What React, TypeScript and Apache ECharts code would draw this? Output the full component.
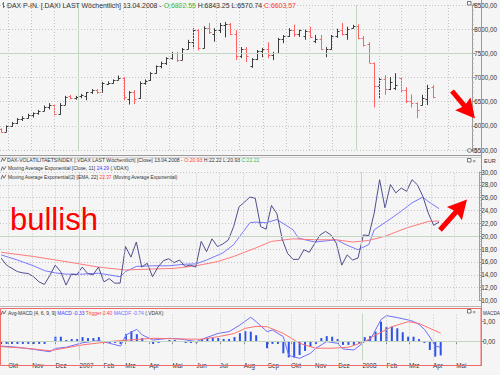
import React, { useEffect, useRef } from 'react';
import * as echarts from 'echarts';

// ---------- data ----------
const DAY = 86400000;
const FIRST_WEEK = '2006-09-22';
const WEEK_COUNT = 82;

const OPEN = [5930,5880,6000,6060,6140,6170,6230,6260,6310,6400, 6430,6250,6440,6610,6570,6610,6620,6690,6750,6700, 6870,6890,6950,6990,6560,6700,6570,6890,6940,7090, 7230,7300,7400,7510,7370,7580,7740,7990,7620,8020, 7900,7980,8080,8110,7890,7450,7580,7230,7380,7550, 7600,7460,7500,7800,7860,7990,7900,7850,7960,7750, 7800,7500,7580,7860,7990,7900,8020,8070,7810,7690, 7300,6820,6970,6770,6790,6980,6750,6520,6470,6440, 6560,6802.55];
const HIGH = [5950,6010,6080,6160,6200,6250,6280,6330,6420,6470, 6440,6470,6620,6640,6620,6660,6700,6760,6760,6910, 6920,6960,7040,7010,6720,6740,6920,6960,7110,7250, 7330,7420,7530,7530,7610,7780,8020,8000,8060,8130, 8020,8130,8150,8130,7980,7630,7630,7400,7570,7610, 7730,7530,7820,7880,8020,8090,7990,7990,8050,7880, 7880,7630,7880,8010,8130,8050,8090,8100,7860,7730, 7310,7010,7050,7010,7090,7010,6800,6650,6480,6640, 6850,6843.25];
const LOW = [5860,5870,5980,6040,6100,6150,6170,6230,6300,6340, 6220,6230,6430,6550,6540,6570,6530,6660,6660,6690, 6850,6870,6940,6530,6440,6450,6560,6850,6930,7080, 7190,7260,7370,7320,7360,7580,7600,7560,7600,7900, 7740,7920,7830,7880,7360,7400,7320,7200,7360,7420, 7400,7360,7500,7710,7840,7840,7840,7780,7820,7710, 7570,7420,7570,7820,7870,7780,8010,7790,7640,7300, 6380,6560,6640,6740,6740,6700,6470,6380,6160,6420, 6430,6570.74];
const CLOSE = [5880,6000,6060,6140,6170,6230,6260,6310,6400,6430, 6250,6440,6600,6570,6600,6640,6690,6740,6700,6880, 6890,6950,6990,6600,6690,6560,6890,6920,7090,7230, 7300,7400,7510,7370,7580,7740,7990,7620,8020,7940, 7980,8080,8110,7890,7450,7580,7450,7380,7550,7600, 7460,7500,7800,7860,7980,7900,7980,7960,7830,7800, 7600,7580,7860,7960,7900,8000,8070,7810,7680,7310, 6820,6970,6770,6900,6850,6750,6510,6470,6330,6580, 6780,6603.57];

const VDAX = [16.6,15.5,15.0,14.5,14.3,14.2,13.7,12.9,12.5,13.9, 15.5,14.5,12.4,14.1,14.0,15.2,14.2,14.0,15.2,12.9, 13.4,12.7,12.7,18.4,16.75,19.1,15.2,15.8,13.7,15.2, 16.2,16.5,15.9,16.3,15.3,15.5,15.2,19.2,17.6,19.6, 18.4,18.8,19.4,21.5,24.6,25.3,26.1,25.9,21.5,21.1, 24.8,23.5,19.5,17.3,16.4,16.4,17.9,17.5,18.9,20.2, 20.75,20.2,18.9,15.5,17.1,16.3,16.6,20.2,20.1,23.6, 28.8,24.4,28.05,26.75,27.5,27.0,28.8,28.0,26.2,23.6, 21.7,22.22];
const VDAX_LAST_OHLC = [20.93, 22.22, 20.93, 22.22];

const EMA11_WEEK = [0,3,6,8,10,12,15,18,22,23,25,28,31,34,36,38,41,43,46,47,49,51,54,55,58,62,64,66,68,69,72,74,76,78,79,81];
const EMA11 = [17.1,16.3,15.4,14.65,14.3,14.1,14.1,14.25,13.7,14.5,15.3,15.4,15.4,15.65,15.7,16.3,17.4,18.7,22.1,22.2,22.1,22.6,21.0,19.7,19.1,19.45,18.6,17.9,18.7,21.0,22.7,23.9,25.2,26.1,25.4,24.29];
const EMA22_WEEK = [0,6,12,18,23,28,32,36,40,43,47,50,54,58,62,65,68,71,75,79,81];
const EMA22 = [17.5,16.85,16.05,15.2,14.75,14.9,15.0,15.4,16.05,16.85,18.15,19.2,19.6,19.45,19.45,19.1,19.35,20.0,21.3,22.3,22.37];

const MACDF = [-0.15,-0.15,-0.15,-0.15,-0.15,-0.15,-0.15,-0.15,-0.15,0.0, 0.22,0.22,0.05,0.1,0.1,0.2,0.15,0.15,0.2,-0.05, -0.1,-0.1,-0.15,0.35,0.5,0.35,0.15,-0.05,-0.15,-0.1, -0.05,0.05,0.05,0.0,-0.1,-0.1,-0.1,0.1,0.15,0.15, 0.15,0.1,0.1,0.2,0.4,0.5,0.48,0.3,-0.03,-0.37, -0.15,-0.15,-0.63,-0.84,-0.85,-0.72,-0.51,-0.3,-0.15,0.15, 0.25,0.22,0.1,-0.2,-0.2,-0.2,-0.15,0.2,0.25,0.48, 0.99,0.73,0.73,0.65,0.45,0.22,0.22,0.1,-0.1,-0.46, -0.8,-0.74];
const MACD_WEEK = [0,3,6,9,10,12,15,18,20,22,23,25,26,28,31,33,36,37,40,42,44,46,47,49,50,52,53,55,57,58,60,62,63,65,67,68,70,71,73,75,76,77,78,79,80,81];
const MACD = [-0.26,-0.32,-0.43,-0.55,-0.38,-0.32,-0.09,0.02,-0.12,-0.26,0.31,0.6,0.31,0.05,0.14,0.1,-0.03,0.09,0.39,0.48,0.82,1.22,0.99,0.48,0.56,0.22,-0.74,-0.89,-0.63,-0.37,-0.03,-0.12,-0.41,-0.46,-0.03,0.05,1.1,1.3,1.2,1.08,1.0,0.85,0.6,0.2,-0.25,-0.33];
const TRIGGER_WEEK = [0,5,9,15,21,28,34,37,40,43,45,47,49,52,55,58,61,64,67,69,72,75,77,79,81];
const TRIGGER = [-0.29,-0.38,-0.5,-0.2,0.0,0.14,0.1,0.09,0.22,0.39,0.65,0.75,0.73,0.39,-0.12,-0.37,-0.37,-0.32,-0.03,0.31,0.73,0.99,0.9,0.65,0.40];

const MONTH_STARTS = ['2006-10-01','2006-11-01','2006-12-01','2007-01-01','2007-02-01','2007-03-01','2007-04-01','2007-05-01','2007-06-01','2007-07-01','2007-08-01','2007-09-01','2007-10-01','2007-11-01','2007-12-01','2008-01-01','2008-02-01','2008-03-01','2008-04-01','2008-05-01'];
const MONTH_LABELS = ['Okt','Nov','Dez','2007','Feb','Mrz','Apr','Mai','Jun','Jul','Aug','Sep','Okt','Nov','Dez','2008','Feb','Mrz','Apr','Mai'];

const PRICE_TICKS = { min: 5500, max: 8500, step: 500 };
const VDAX_TICKS = { min: 10, max: 30, step: 2 };

// ---------- helpers ----------
const FONT = '"Liberation Sans Narrow", "Liberation Sans", Arial, sans-serif';
const FS = 6.3;
const X_MIN = Date.parse('2006-09-20T12:00:00Z');
const X_MAX = Date.parse('2008-06-02T00:00:00Z');
const WEEKS = Array.from({ length: WEEK_COUNT }, (_, i) => Date.parse(FIRST_WEEK) + i * 7 * DAY);
const MONTH_TS = MONTH_STARTS.map((d) => Date.parse(d));
const isYear = (s: string) => /^\d{4}$/.test(s);
const fmt2 = (v: number) => v.toFixed(2).replace('.', ',');
const last = WEEK_COUNT - 1;

const GRID_GREEN = '#c2d6c2';
const DOT = '#c4c4c4';

const monthLines = () =>
  MONTH_TS.map((t, k) => ({
    xAxis: t,
    lineStyle: isYear(MONTH_LABELS[k])
      ? { color: GRID_GREEN, type: 'solid', width: 1 }
      : { color: DOT, type: [1, 2], width: 1 },
  }));

const boxLabel = (text: string, border: string) => ({
  show: true,
  position: 'end',
  distance: 1,
  formatter: text,
  fontSize: FS,
  fontFamily: FONT,
  color: '#222',
  backgroundColor: '#ffffff',
  borderColor: border,
  borderWidth: 0.8,
  borderRadius: 2,
  padding: [1, 3, 0, 3],
});

function arrowPoints(tail: number[], tip: number[], shaftW: number, headL: number, headW: number) {
  const dx = tip[0] - tail[0], dy = tip[1] - tail[1];
  const len = Math.hypot(dx, dy);
  const ux = dx / len, uy = dy / len;
  const nx = -uy, ny = ux;
  const bx = tip[0] - ux * headL, by = tip[1] - uy * headL;
  return [
    [tail[0] + nx * shaftW / 2, tail[1] + ny * shaftW / 2],
    [bx + nx * shaftW / 2, by + ny * shaftW / 2],
    [bx + nx * headW / 2 - ux * 2, by + ny * headW / 2 - uy * 2],
    [tip[0], tip[1]],
    [bx - nx * headW / 2 - ux * 2, by - ny * headW / 2 - uy * 2],
    [bx - nx * shaftW / 2, by - ny * shaftW / 2],
    [tail[0] - nx * shaftW / 2, tail[1] - ny * shaftW / 2],
  ];
}

const yBase = (gridIndex: number) => ({
  type: 'value',
  gridIndex,
  position: 'right',
  axisLine: { show: true, lineStyle: { color: '#9a9a9a', width: 1 } },
  axisTick: { show: true, length: 3, lineStyle: { color: '#9a9a9a' } },
  minorTick: { show: true, splitNumber: 5, length: 1.5, lineStyle: { color: '#b0b0b0' } },
  axisLabel: { fontSize: FS, fontFamily: FONT, color: '#333', margin: 2, formatter: fmt2 },
  splitLine: { show: true, lineStyle: { color: DOT, type: [1, 2], width: 1 } },
});

const xBase = (gridIndex: number, show: boolean) => ({
  type: 'value',
  gridIndex,
  min: X_MIN,
  max: X_MAX,
  show,
  axisLine: { show: false },
  splitLine: { show: false },
  axisTick: { show, customValues: MONTH_TS, length: 3, lineStyle: { color: '#888' } },
  axisLabel: {
    show,
    customValues: MONTH_TS,
    align: 'left',
    margin: 2,
    fontSize: FS,
    fontFamily: FONT,
    color: '#333',
    formatter: (v: number) => {
      const k = MONTH_TS.findIndex((t) => Math.abs(t - v) < DAY);
      return k >= 0 ? MONTH_LABELS[k] : '';
    },
  },
});

const makeRich = (fs: number) => ({
  d: { fill: '#333', fontSize: fs, fontFamily: FONT },
  g: { fill: '#3cb83c', fontSize: fs, fontFamily: FONT },
  r: { fill: '#ff3b3b', fontSize: fs, fontFamily: FONT },
  b: { fill: '#3a3aff', fontSize: fs, fontFamily: FONT },
  lb: { fill: '#6f6fff', fontSize: fs, fontFamily: FONT },
});

const HEAD_PRICE = `{d|DAX P-IN. [.DAXI LAST Wöchentlich] 13.04.2008 - }{g|O:${OPEN[last].toFixed(2)}}{d| H:${HIGH[last].toFixed(2)} L:${LOW[last].toFixed(2)} }{r|C:${CLOSE[last].toFixed(2)}}`;
const HEAD_VDAX = `{d|DAX-VOLATILITAETSINDEX [.VDAX LAST Wöchentlich] [Close] 13.04.2008 - }{r|O:${VDAX_LAST_OHLC[0].toFixed(2)}}{d| H:${VDAX_LAST_OHLC[1].toFixed(2)} L:${VDAX_LAST_OHLC[2].toFixed(2)} }{g|C:${VDAX_LAST_OHLC[3].toFixed(2)}}`;
const HEAD_EMA11 = `{d|Moving Average Exponential [Close, 11] }{b|${EMA11[EMA11.length - 1].toFixed(2)}}{d| (.VDAX)}`;
const HEAD_EMA22 = `{d|Moving Average Exponential(2) [EMA, 22] }{r|${EMA22[EMA22.length - 1].toFixed(2)}}{d| (Moving Average Exponential)}`;
const HEAD_MACD = `{d|Avg-MACD [4, 6, 9, 9] }{b|MACD ${MACD[MACD.length - 1].toFixed(2)}}{d| }{r|Trigger ${TRIGGER[TRIGGER.length - 1].toFixed(2)}}{d| }{lb|MACDF ${MACDF[last].toFixed(2)}}{d| (.VDAX)}`;

const headText = (x: number, y: number, text: string, fs: number) => ({
  type: 'text',
  x,
  y,
  z: 100,
  silent: true,
  style: { text, rich: makeRich(fs), fontSize: fs, fontFamily: FONT, fill: '#333', verticalAlign: 'middle', align: 'left' },
});

const smallText = (x: number, y: number, text: string, fs: number) => ({
  type: 'text', x, y, z: 100, silent: true,
  style: { text, fontSize: fs, fontFamily: FONT, fill: '#333', verticalAlign: 'middle', align: 'left' },
});

const hLine = (x1: number, x2: number, y: number, color: string) => ({
  type: 'line', z: 90, silent: true,
  shape: { x1, y1: y, x2, y2: y },
  style: { stroke: color, lineWidth: 1 },
});

const winIcon = (y: number) => [
  { type: 'rect', z: 100, silent: true, shape: { x: 467.5, y: y - 2, width: 3.5, height: 3.5 }, style: { fill: '#fff', stroke: '#555', lineWidth: 0.8 } },
  { type: 'text', z: 100, silent: true, x: 472.5, y, style: { text: '×', fontSize: 5.5, fontFamily: FONT, fill: '#555', verticalAlign: 'middle' } },
];

const lineIcon = (y: number) => ({
  type: 'polyline', z: 100, silent: true,
  shape: { points: [[1, y + 2], [2.5, y - 2], [4, y + 1], [6, y - 2.5]] },
  style: { stroke: '#555', lineWidth: 0.8, fill: 'none' },
});

// ---------- option ----------
const ohlcData = WEEKS.map((t, i) => [t, OPEN[i], HIGH[i], LOW[i], CLOSE[i]]);
const vdaxData = WEEKS.map((t, i) => [t, VDAX[i]]);
const ema11Data = EMA11_WEEK.map((w, k) => [WEEKS[w], EMA11[k]]);
const ema22Data = EMA22_WEEK.map((w, k) => [WEEKS[w], EMA22[k]]);
const macdfData = WEEKS.map((t, i) => [t, MACDF[i]]);
const macdData = MACD_WEEK.map((w, k) => [WEEKS[w], MACD[k]]);
const trigData = TRIGGER_WEEK.map((w, k) => [WEEKS[w], TRIGGER[k]]);

const option: any = {
  animation: false,
  backgroundColor: '#f5f5f5',
  textStyle: { fontFamily: FONT },
  grid: [
    { left: 0, right: 19, top: 5, height: 145 },
    { left: 0, right: 19, top: 172, height: 128.5 },
    { left: 0, right: 19, top: 313.7, height: 46.8 },
  ],
  xAxis: [xBase(0, false), xBase(1, false), xBase(2, true)],
  yAxis: [
    { ...yBase(0), min: PRICE_TICKS.min, max: PRICE_TICKS.max, interval: PRICE_TICKS.step },
    { ...yBase(1), min: VDAX_TICKS.min, max: VDAX_TICKS.max, interval: VDAX_TICKS.step },
    {
      ...yBase(2),
      min: -1,
      max: 1.4,
      interval: 1,
      minorTick: { show: false },
      splitLine: { show: false },
      axisLabel: {
        fontSize: FS, fontFamily: FONT, color: '#333', margin: 2,
        showMaxLabel: false, showMinLabel: false,
        formatter: (v: number) => (v === 0 || v === 1 ? fmt2(v) : ''),
      },
    },
  ],
  series: [
    {
      type: 'custom',
      name: 'DAX',
      xAxisIndex: 0,
      yAxisIndex: 0,
      clip: true,
      dimensions: ['t', 'o', 'h', 'l', 'c'],
      encode: { x: 0, y: [1, 2, 3, 4] },
      data: ohlcData,
      renderItem: (params: any, api: any) => {
        const t = api.value(0);
        const o = api.value(1), h = api.value(2), l = api.value(3), c = api.value(4);
        const pO = api.coord([t, o]);
        const pH = api.coord([t, h]);
        const pL = api.coord([t, l]);
        const pC = api.coord([t, c]);
        const x = Math.round(pO[0]) + 0.5;
        const color = c >= o ? '#3c3c3c' : '#ff6464';
        const st = { stroke: color, lineWidth: 1 };
        const yo = Math.round(pO[1]) + 0.5;
        const yc = Math.round(pC[1]) + 0.5;
        return {
          type: 'group',
          children: [
            { type: 'line', shape: { x1: x, y1: pH[1], x2: x, y2: pL[1] }, style: st },
            { type: 'line', shape: { x1: x - 2, y1: yo, x2: x, y2: yo }, style: st },
            { type: 'line', shape: { x1: x, y1: yc, x2: x + 2, y2: yc }, style: st },
          ],
        };
      },
      markLine: {
        silent: true,
        symbol: 'none',
        animation: false,
        label: { show: false },
        data: [
          ...monthLines(),
          { yAxis: 7500, lineStyle: { color: GRID_GREEN, type: 'solid', width: 1 } },
          { yAxis: CLOSE[last], lineStyle: { opacity: 0 }, label: boxLabel(String(Math.round(CLOSE[last] - 0.5)), '#8a8a8a') },
        ],
      },
    },
    {
      type: 'line',
      name: 'VDAX',
      xAxisIndex: 1,
      yAxisIndex: 1,
      data: vdaxData,
      symbol: 'none',
      z: 4,
      lineStyle: { color: '#4f4f8e', width: 1 },
      markLine: {
        silent: true,
        symbol: 'none',
        animation: false,
        label: { show: false },
        data: [
          ...monthLines(),
          { yAxis: 20, lineStyle: { color: GRID_GREEN, type: 'solid', width: 1 } },
          { yAxis: VDAX[last], lineStyle: { opacity: 0 }, label: boxLabel(fmt2(VDAX[last]), '#8a8a8a') },
        ],
      },
    },
    {
      type: 'line',
      name: 'EMA11',
      xAxisIndex: 1,
      yAxisIndex: 1,
      data: ema11Data,
      symbol: 'none',
      z: 3,
      lineStyle: { color: '#7878ff', width: 1 },
    },
    {
      type: 'line',
      name: 'EMA22',
      xAxisIndex: 1,
      yAxisIndex: 1,
      data: ema22Data,
      symbol: 'none',
      z: 3,
      lineStyle: { color: '#ff7b7b', width: 1 },
    },
    {
      type: 'bar',
      name: 'MACDF',
      xAxisIndex: 2,
      yAxisIndex: 2,
      data: macdfData,
      barWidth: 2,
      itemStyle: { color: '#2d52e6' },
      markLine: {
        silent: true,
        symbol: 'none',
        animation: false,
        label: { show: false },
        data: [
          ...monthLines(),
          { yAxis: 0, lineStyle: { color: GRID_GREEN, type: 'solid', width: 1 } },
          { yAxis: MACDF[last], lineStyle: { opacity: 0 }, label: boxLabel(fmt2(MACDF[last]), '#6f6fff') },
        ],
      },
    },
    {
      type: 'line',
      name: 'MACD',
      xAxisIndex: 2,
      yAxisIndex: 2,
      data: macdData,
      symbol: 'none',
      z: 4,
      lineStyle: { color: '#6f6fff', width: 1 },
      markLine: {
        silent: true,
        symbol: 'none',
        animation: false,
        data: [
          { yAxis: MACD[MACD.length - 1], lineStyle: { opacity: 0 }, label: boxLabel(fmt2(MACD[MACD.length - 1]), '#6f6fff') },
        ],
      },
    },
    {
      type: 'line',
      name: 'Trigger',
      xAxisIndex: 2,
      yAxisIndex: 2,
      data: trigData,
      symbol: 'none',
      z: 4,
      lineStyle: { color: '#ff7070', width: 1 },
      markLine: {
        silent: true,
        symbol: 'none',
        animation: false,
        data: [
          { yAxis: TRIGGER[TRIGGER.length - 1], lineStyle: { opacity: 0 }, label: boxLabel(TRIGGER[TRIGGER.length - 1].toFixed(1).replace('.', ','), '#ff6a6a') },
        ],
      },
    },
  ],
  graphic: [
    hLine(0, 481, 155.5, '#9a9a9a'),
    hLine(0, 481, 157.5, '#d6d6d6'),
    hLine(0, 481, 306.5, '#b8b8b8'),
    { type: 'line', z: 90, silent: true, shape: { x1: 481.5, y1: 0, x2: 481.5, y2: 366 }, style: { stroke: '#9a9a9a', lineWidth: 1 } },
    { type: 'rect', z: 95, silent: true, shape: { x: 0.5, y: 308.5, width: 480.5, height: 57 }, style: { fill: 'none', stroke: '#f06a6a', lineWidth: 1 } },
    { type: 'line', z: 100, silent: true, shape: { x1: 3.5, y1: 2, x2: 3.5, y2: 8 }, style: { stroke: '#555', lineWidth: 0.8 } },
    { type: 'line', z: 100, silent: true, shape: { x1: 2, y1: 4, x2: 3.5, y2: 4 }, style: { stroke: '#555', lineWidth: 0.8 } },
    { type: 'line', z: 100, silent: true, shape: { x1: 3.5, y1: 6.5, x2: 5, y2: 6.5 }, style: { stroke: '#555', lineWidth: 0.8 } },
    lineIcon(160),
    lineIcon(168.7),
    lineIcon(177.2),
    lineIcon(313),
    headText(7, 5, HEAD_PRICE, 6.9),
    headText(7, 160, HEAD_VDAX, 5.1),
    headText(8, 168.7, HEAD_EMA11, 4.95),
    headText(8, 177.2, HEAD_EMA22, 4.85),
    headText(8, 313, HEAD_MACD, 4.95),
    smallText(484, 160.5, 'EUR', 5.6),
    smallText(483, 313.5, 'MACDA', 4.7),
    ...winIcon(3.5),
    ...winIcon(160.5),
    ...winIcon(311.5),
    { type: 'ellipse', z: 100, silent: true, shape: { cx: 469.5, cy: 150.5, rx: 2.3, ry: 1.8 }, style: { fill: 'none', stroke: '#555', lineWidth: 0.8 } },
    { type: 'ellipse', z: 100, silent: true, shape: { cx: 474.5, cy: 150.5, rx: 2.3, ry: 1.8 }, style: { fill: 'none', stroke: '#555', lineWidth: 0.8 } },
    {
      type: 'text', z: 110, silent: true, x: 10, y: 219,
      style: { text: 'bullish', fontSize: 31, fontFamily: '"Liberation Sans", Arial, sans-serif', fill: '#ff0000', verticalAlign: 'middle' },
    },
    {
      type: 'polygon', z: 110, silent: true,
      shape: { points: arrowPoints([452, 91], [475, 118.5], 5, 17, 20) },
      style: { fill: '#ff0000' },
    },
    {
      type: 'polygon', z: 110, silent: true,
      shape: { points: arrowPoints([440, 230], [467, 199.5], 5, 17, 20) },
      style: { fill: '#ff0000' },
    },
  ],
};

export default function App() {
  const ref = useRef<HTMLDivElement>(null);
  useEffect(() => {
    if (!ref.current) return;
    const chart = echarts.init(ref.current, null, { renderer: 'svg' });
    chart.setOption(option);
    return () => chart.dispose();
  }, []);
  return <div ref={ref} style={{ position: 'absolute', left: 0, top: 0, width: 500, height: 375 }} />;
}
